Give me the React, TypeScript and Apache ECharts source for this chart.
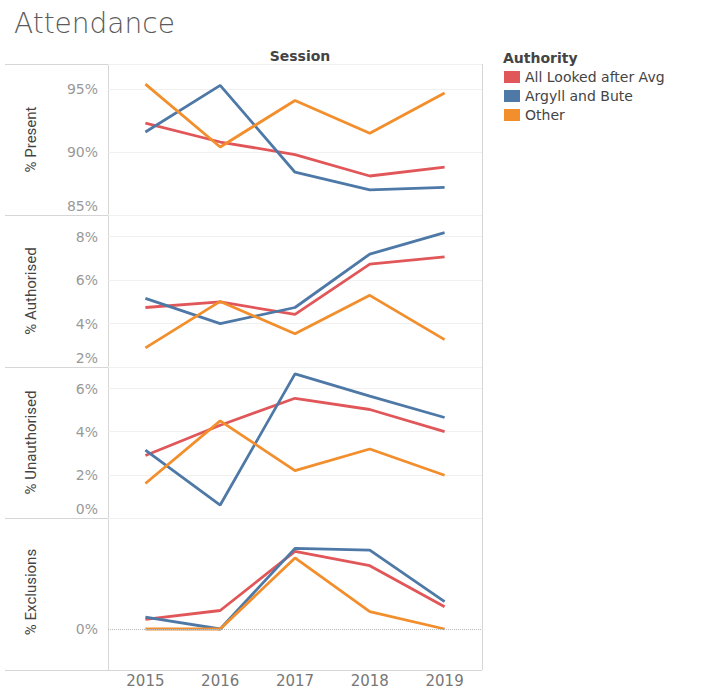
import React, { useEffect, useRef } from "react";
import * as echarts from "echarts";

const years = ["2015", "2016", "2017", "2018", "2019"];
const seriesNames = ["All Looked after Avg", "Argyll and Bute", "Other"];
const seriesColors = ["#e15759", "#4e79a7", "#f28e2b"];

const rowLabels = ["% Present", "% Authorised", "% Unauthorised", "% Exclusions"];

// values in %
const presentAvg = [92.3, 90.8, 89.8, 88.1, 88.8];
const presentArgyll = [91.6, 95.3, 88.4, 87.0, 87.2];
const presentOther = [95.4, 90.4, 94.1, 91.5, 94.7];

const authorisedAvg = [4.74, 5.0, 4.42, 6.74, 7.07];
const authorisedArgyll = [5.16, 4.0, 4.74, 7.2, 8.19];
const authorisedOther = [2.88, 5.02, 3.53, 5.3, 3.26];

const unauthorisedAvg = [2.9, 4.3, 5.55, 5.03, 4.0];
const unauthorisedArgyll = [3.15, 0.6, 6.68, 5.65, 4.66];
const unauthorisedOther = [1.6, 4.5, 2.2, 3.2, 1.98];

const exclusionsAvg = [0.026, 0.05, 0.21, 0.171, 0.06];
const exclusionsArgyll = [0.032, 0.0, 0.218, 0.213, 0.074];
const exclusionsOther = [0.0, 0.0, 0.192, 0.047, 0.0];

const panelData = [
  [presentAvg, presentArgyll, presentOther],
  [authorisedAvg, authorisedArgyll, authorisedOther],
  [unauthorisedAvg, unauthorisedArgyll, unauthorisedOther],
  [exclusionsAvg, exclusionsArgyll, exclusionsOther],
];

const axisMin = [85, 2, 0, -0.1];
const axisMax = [97, 9, 7, 0.3];
const axisStep = [5, 2, 2, 0.1];

export default function App() {
  const ref = useRef<HTMLDivElement>(null);
  useEffect(() => {
    if (!ref.current) return;
    const chart = echarts.init(ref.current, undefined, { renderer: "svg" });
    const frameColor = "#d6d6d6";
    const tickColor = "#999";
    const fontFam = "DejaVu Sans";

    const gridTops = [64, 215, 367, 518];
    const gridHeights = [151, 152, 151, 152];
    const left = 108;
    const width = 374;

    const grids = gridTops.map((t, i) => ({ left, top: t, width, height: gridHeights[i] }));

    const xAxes = gridTops.map((_, i) => ({
      type: "category",
      gridIndex: i,
      data: years,
      boundaryGap: true,
      axisLine: { show: false },
      axisTick: { show: false },
      axisLabel: {
        show: i === 3,
        color: "#777",
        fontSize: 15,
        fontFamily: fontFam,
        margin: 7,
      },
      splitLine: { show: false },
    }));

    const yAxes = gridTops.map((_, i) => {
      const mn = axisMin[i];
      const step = axisStep[i];
      return {
        type: "value",
        gridIndex: i,
        min: mn,
        max: axisMax[i],
        interval: step,
        name: rowLabels[i],
        nameLocation: "middle",
        nameRotate: 90,
        nameGap: 70,
        nameTextStyle: { color: "#444", fontSize: 15, fontFamily: "Roboto" },
        axisLine: { show: false },
        axisTick: { show: false },
        splitLine: { show: i !== 3, lineStyle: { color: "#f0f0f0", width: 1 } },
        axisLabel: {
          color: tickColor,
          fontSize: 14,
          fontFamily: fontFam,
          margin: 10,
          formatter: (v: number) => {
            if (i === 3) return Math.abs(v) < 1e-9 ? "0%" : "";
            const r = Math.round(v / step) * step;
            if (Math.abs(r - v) > 1e-9) return "";
            const txt = `${Math.round(v)}%`;
            if (Math.abs(v - mn) < 1e-9) return `{b|${txt}}`;
            return txt;
          },
          rich: {
            b: {
              color: tickColor,
              fontSize: 14,
              fontFamily: fontFam,
              padding: [0, 0, 18, 0],
            },
          },
        },
      };
    });

    const series: any[] = [];
    panelData.forEach((group, p) => {
      group.forEach((vals, s) => {
        const ser: any = {
          type: "line",
          name: seriesNames[s],
          xAxisIndex: p,
          yAxisIndex: p,
          data: vals,
          symbol: "none",
          lineStyle: { color: seriesColors[s], width: 2.8 },
          itemStyle: { color: seriesColors[s] },
          z: 2 + s,
        };
        if (p === 3 && s === 0) {
          ser.markLine = {
            silent: true,
            symbol: "none",
            label: { show: false },
            lineStyle: { color: "#bbb", type: "dotted", width: 1 },
            data: [{ yAxis: 0 }],
          };
        }
        series.push(ser);
      });
    });

    const hLines = [64, 215, 367, 518, 670].map((y) => ({
      type: "line",
      shape: { x1: 5, y1: y + 0.5, x2: 482, y2: y + 0.5 },
      style: { stroke: frameColor, lineWidth: 1 },
      silent: true,
    }));
    const vLines = [108, 482].map((x) => ({
      type: "line",
      shape: { x1: x + 0.5, y1: 64, x2: x + 0.5, y2: 670 },
      style: { stroke: frameColor, lineWidth: 1 },
      silent: true,
    }));

    chart.setOption({
      animation: false,
      backgroundColor: "#ffffff",
      title: [
        {
          text: "Attendance",
          left: 9,
          top: 4,
          textStyle: { color: "#5a5a5a", fontSize: 28, fontWeight: 200, fontFamily: fontFam },
        },
        {
          text: "Session",
          left: 295,
          top: 44,
          textAlign: "center",
          textStyle: { color: "#444", fontSize: 14, fontWeight: "bold", fontFamily: fontFam },
        },
        {
          text: "Authority",
          left: 498,
          top: 46,
          textStyle: { color: "#444", fontSize: 14, fontWeight: "bold", fontFamily: fontFam },
        },
      ],
      legend: {
        data: seriesNames,
        orient: "vertical",
        left: 499,
        top: 65,
        icon: "rect",
        itemWidth: 16,
        itemHeight: 12,
        itemGap: 5,
        textStyle: { color: "#444", fontSize: 14, fontFamily: fontFam },
        selectedMode: false,
      },
      grid: grids,
      xAxis: xAxes,
      yAxis: yAxes,
      series,
      graphic: [...hLines, ...vLines],
    });
    return () => chart.dispose();
  }, []);
  return (
    <div
      ref={ref}
      style={{ position: "absolute", left: 0, top: 0, width: 702, height: 688 }}
    />
  );
}
